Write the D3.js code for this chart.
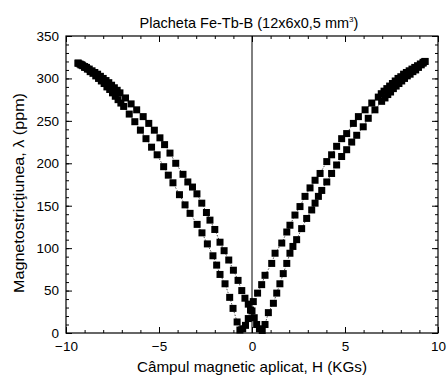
<!DOCTYPE html>
<html>
<head>
<meta charset="utf-8">
<script src="https://cdn.jsdelivr.net/npm/d3@7/dist/d3.min.js"></script>
<style>
  body { margin: 0; background: #fff; }
  text { font-family: "Liberation Sans", Arial, sans-serif; fill: #000; }
</style>
</head>
<body>
<div id="chart"></div>
<script>
// field sweep +H -> -H (descending branch)
const descH = [9.3, 9.2, 9.05, 8.9, 8.75, 8.6, 8.45, 8.3, 8.15, 8.0, 7.85, 7.7, 7.55, 7.4, 7.25, 7.1, 6.95,
  6.79, 6.44, 6.08, 5.72, 5.45, 5.09, 4.82, 4.55, 4.28, 4.02, 3.66, 3.39, 3.12, 2.85, 2.58, 2.31, 2.04,
  1.87, 1.6, 1.24, 1.06, 0.7, 0.52, 0.3, 0.07,
  -0.08, -0.2, -0.35, -0.5, -0.65, -0.8, -1.02, -1.2, -1.45, -1.72, -1.9, -2.1, -2.4, -2.69, -2.95, -3.33,
  -3.6, -3.9, -4.25, -4.5, -4.75, -5.1, -5.4, -5.7, -6.0, -6.3, -6.6, -6.9, -7.05, -7.2, -7.35, -7.5,
  -7.65, -7.8, -7.95, -8.1, -8.25, -8.4, -8.55, -8.7, -8.85, -9.0, -9.1, -9.2, -9.35];
const descL = [320, 319, 317, 315, 313, 311, 309, 307, 305, 302, 300, 297, 294, 291, 288, 285, 282,
  278, 271, 263, 255, 247, 235, 229, 220, 210, 202, 188, 180, 171, 161, 149, 139, 127,
  119, 106, 94, 82, 68, 57, 47, 37,
  27, 17, 9, 5, 3.5, 13, 29, 42, 58, 69, 80, 91, 105, 118, 128, 141,
  151, 163, 177, 186, 196, 210, 219, 229, 239, 249, 258, 267, 271, 275, 279, 283,
  287, 290, 294, 297, 300, 303, 306, 308, 311, 313, 315, 316, 318];

// field sweep -H -> +H (ascending branch)
const ascH = [-9.35, -9.25, -9.15, -9.0, -8.9, -8.75, -8.6, -8.45, -8.3, -8.15, -8.0, -7.85, -7.7, -7.55,
  -7.4, -7.25, -7.1, -6.8, -6.5, -6.2, -5.85, -5.55,
  -5.25, -4.95, -4.7, -4.41, -4.1, -3.71, -3.45, -3.2, -2.96, -2.7, -2.45, -2.26, -2.0, -1.72, -1.5, -1.25,
  -1.0, -0.75, -0.55, -0.38, -0.2, 0.0, 0.12, 0.25, 0.4, 0.55, 0.7, 0.88, 1.15, 1.33, 1.5, 1.68, 1.87,
  2.04, 2.2, 2.4, 2.67, 2.94, 3.21, 3.39, 3.57, 3.75, 4.02, 4.28, 4.55, 4.82, 5.09, 5.36, 5.63, 5.98,
  6.25, 6.61, 6.97, 7.15, 7.3, 7.45, 7.6, 7.75, 7.9, 8.05, 8.2, 8.35, 8.5, 8.65, 8.8, 8.95, 9.1, 9.2, 9.3];
const ascL = [318, 317, 316, 314, 313, 311, 309, 307, 305, 302.5, 300, 297.5, 295, 292,
  289, 286, 283, 277, 270, 263, 255, 247,
  239, 230, 222, 212, 200, 187, 178, 172, 164, 153, 142, 133, 122, 107, 97, 86,
  74, 62, 50, 41, 34, 26, 18, 10, 5, 3, 10, 24, 35, 47, 58, 70, 82,
  94, 102, 110, 123, 135, 145, 153, 161, 168, 178, 188, 198, 208, 216, 225, 233, 243,
  253, 263, 273, 277, 281, 284, 288, 291, 294, 297, 300, 303, 305, 308, 310, 313, 316, 318, 320];

const xTicks = [-10, -5, 0, 5, 10];
const yTicks = [0, 50, 100, 150, 200, 250, 300, 350];

const titleText = 'Placheta Fe-Tb-B (12x6x0,5 mm';
const xLabel = 'Câmpul magnetic aplicat, H (KGs)';
const yLabel = 'Magnetostricţiunea, λ (ppm)';

const width = 448, height = 379;
const margin = { top: 36, right: 10, bottom: 46, left: 66 };

const svg = d3.select('#chart').append('svg')
    .attr('width', width)
    .attr('height', height);

const x = d3.scaleLinear().domain([-10, 10]).range([margin.left, width - margin.right]);
const y = d3.scaleLinear().domain([0, 350]).range([height - margin.bottom, margin.top]);

const plot = svg.append('g');

// zero-field line
plot.append('line')
    .attr('x1', x(0)).attr('x2', x(0))
    .attr('y1', y(0)).attr('y2', y(350))
    .attr('stroke', '#000')
    .attr('stroke-width', 1);

const series = [
  descH.map((h, i) => [h, descL[i]]),
  ascH.map((h, i) => [h, ascL[i]])
];

const line = d3.line().x(d => x(d[0])).y(d => y(d[1]));

plot.selectAll('path.conn')
    .data(series)
  .enter().append('path')
    .attr('class', 'conn')
    .attr('d', line)
    .attr('fill', 'none')
    .attr('stroke', '#000')
    .attr('stroke-width', 0.7)
    .attr('stroke-dasharray', '1.5,1.5');

const sz = 7;
plot.selectAll('g.pts')
    .data(series)
  .enter().append('g')
    .attr('class', 'pts')
  .selectAll('rect')
    .data(d => d)
  .enter().append('rect')
    .attr('x', d => x(d[0]) - sz / 2)
    .attr('y', d => y(d[1]) - sz / 2)
    .attr('width', sz)
    .attr('height', sz)
    .attr('fill', '#000');

// frame + inward ticks on all four sides
const axisStyle = g => {
  g.select('.domain').remove();
  g.selectAll('line').attr('stroke', '#000').attr('stroke-width', 1);
  g.selectAll('text').style('font-size', '13.5px');
};

const xMinor = d3.range(-10, 10.01, 1);
const yMinor = d3.range(0, 350.01, 10);

svg.append('g')
    .attr('transform', `translate(0,${y(0)})`)
    .call(d3.axisBottom(x).tickValues(xMinor).tickSize(-3).tickFormat(''))
    .call(axisStyle);
svg.append('g')
    .attr('transform', `translate(0,${y(0)})`)
    .call(d3.axisBottom(x).tickValues(xTicks).tickSize(-6).tickPadding(8).tickFormat(d3.format('d')))
    .call(axisStyle);
svg.append('g')
    .attr('transform', `translate(0,${y(350)})`)
    .call(d3.axisTop(x).tickValues(xMinor).tickSize(-3).tickFormat(''))
    .call(axisStyle);
svg.append('g')
    .attr('transform', `translate(0,${y(350)})`)
    .call(d3.axisTop(x).tickValues(xTicks).tickSize(-6).tickFormat(''))
    .call(axisStyle);

svg.append('g')
    .attr('transform', `translate(${x(-10)},0)`)
    .call(d3.axisLeft(y).tickValues(yMinor).tickSize(-3).tickFormat(''))
    .call(axisStyle);
svg.append('g')
    .attr('transform', `translate(${x(-10)},0)`)
    .call(d3.axisLeft(y).tickValues(yTicks).tickSize(-6).tickPadding(7).tickFormat(d3.format('d')))
    .call(axisStyle);
svg.append('g')
    .attr('transform', `translate(${x(10)},0)`)
    .call(d3.axisRight(y).tickValues(yMinor).tickSize(-3).tickFormat(''))
    .call(axisStyle);
svg.append('g')
    .attr('transform', `translate(${x(10)},0)`)
    .call(d3.axisRight(y).tickValues(yTicks).tickSize(-6).tickFormat(''))
    .call(axisStyle);

svg.append('rect')
    .attr('x', x(-10)).attr('y', y(350))
    .attr('width', x(10) - x(-10)).attr('height', y(0) - y(350))
    .attr('fill', 'none')
    .attr('stroke', '#000')
    .attr('stroke-width', 1.2);

// labels
const title = svg.append('text')
    .attr('x', 249)
    .attr('y', 28)
    .attr('text-anchor', 'middle')
    .style('font-size', '14.5px')
    .text(titleText);
title.append('tspan')
    .attr('dy', -6)
    .style('font-size', '8px')
    .text('3');
title.append('tspan')
    .attr('dy', 6)
    .text(')');

svg.append('text')
    .attr('x', 252)
    .attr('y', 372)
    .attr('text-anchor', 'middle')
    .attr('textLength', 230)
    .attr('lengthAdjust', 'spacingAndGlyphs')
    .style('font-size', '15px')
    .text(xLabel);

svg.append('text')
    .attr('transform', 'translate(24,193) rotate(-90)')
    .attr('text-anchor', 'middle')
    .attr('textLength', 200)
    .attr('lengthAdjust', 'spacingAndGlyphs')
    .style('font-size', '14.5px')
    .text(yLabel);
</script>
</body>
</html>
